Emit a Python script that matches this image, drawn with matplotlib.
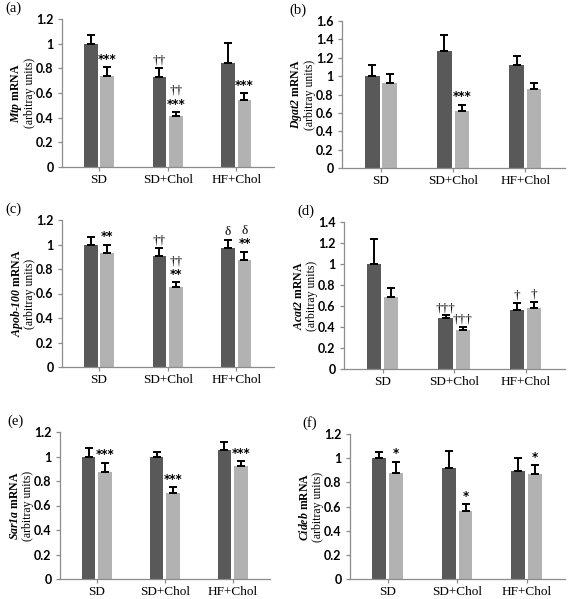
import numpy as np
import matplotlib
matplotlib.use("Agg")
import matplotlib.pyplot as plt

plt.rcParams['mathtext.fontset'] = 'custom'
plt.rcParams['mathtext.rm'] = 'Liberation Serif'
plt.rcParams['mathtext.bf'] = 'Liberation Serif:bold'
plt.rcParams['mathtext.it'] = 'Liberation Serif:italic'
plt.rcParams['mathtext.bfit'] = 'Liberation Serif:bold:italic'

W, H = 568, 599
PX = 0.72  # points per pixel at 100 dpi
dark_c = '#595959'
light_c = '#b2b2b2'

groups = ['SD', 'SD+Chol', 'HF+Chol']

# panel (a) Mtp
mtp_dark = [1.00, 0.73, 0.84]
mtp_dark_err = [0.07, 0.07, 0.165]
mtp_light = [0.74, 0.41, 0.54]
mtp_light_err = [0.07, 0.035, 0.06]
mtp_notes_dark = ['', '††', '']
mtp_notes_light = ['***', '††\n***', '***']

# panel (b) Dgat2
dgat2_dark = [1.00, 1.27, 1.12]
dgat2_dark_err = [0.12, 0.18, 0.10]
dgat2_light = [0.93, 0.62, 0.86]
dgat2_light_err = [0.09, 0.07, 0.07]
dgat2_notes_dark = ['', '', '']
dgat2_notes_light = ['', '***', '']

# panel (c) Apob-100
apob_dark = [1.00, 0.91, 0.97]
apob_dark_err = [0.06, 0.06, 0.07]
apob_light = [0.93, 0.65, 0.87]
apob_light_err = [0.07, 0.04, 0.07]
apob_notes_dark = ['', '††', 'δ']
apob_notes_light = ['**', '††\n**', 'δ\n**']

# panel (d) Acat2
acat2_dark = [1.00, 0.49, 0.56]
acat2_dark_err = [0.24, 0.02, 0.07]
acat2_light = [0.69, 0.37, 0.58]
acat2_light_err = [0.08, 0.03, 0.06]
acat2_notes_dark = ['', '†††', '†']
acat2_notes_light = ['', '†††', '†']

# panel (e) Sar1a
sar1a_dark = [1.00, 1.00, 1.05]
sar1a_dark_err = [0.07, 0.04, 0.07]
sar1a_light = [0.87, 0.70, 0.92]
sar1a_light_err = [0.08, 0.05, 0.04]
sar1a_notes_dark = ['', '', '']
sar1a_notes_light = ['***', '***', '***']

# panel (f) Cideb
cideb_dark = [1.00, 0.92, 0.89]
cideb_dark_err = [0.05, 0.14, 0.11]
cideb_light = [0.88, 0.56, 0.87]
cideb_light_err = [0.09, 0.06, 0.07]
cideb_notes_dark = ['', '', '']
cideb_notes_light = ['*', '*', '*']

panels = [
    ('(a)', r'$\mathbfit{Mtp}$ mRNA', 1.2, (62, 19, 274, 167), -49,
     mtp_dark, mtp_dark_err, mtp_light, mtp_light_err, mtp_notes_dark, mtp_notes_light),
    ('(b)', r'$\mathbfit{Dgat2}$ mRNA', 1.6, (342, 21, 565, 168), -44,
     dgat2_dark, dgat2_dark_err, dgat2_light, dgat2_light_err, dgat2_notes_dark, dgat2_notes_light),
    ('(c)', r'$\mathbfit{Apob}$-$\mathbfit{100}$ mRNA', 1.2, (62, 220, 274, 367), -49,
     apob_dark, apob_dark_err, apob_light, apob_light_err, apob_notes_dark, apob_notes_light),
    ('(d)', r'$\mathbfit{Acat2}$ mRNA', 1.4, (344, 222, 565, 369), -38,
     acat2_dark, acat2_dark_err, acat2_light, acat2_light_err, acat2_notes_dark, acat2_notes_light),
    ('(e)', r'$\mathbfit{Sar1a}$ mRNA', 1.2, (60, 432, 270, 579), -45,
     sar1a_dark, sar1a_dark_err, sar1a_light, sar1a_light_err, sar1a_notes_dark, sar1a_notes_light),
    ('(f)', r'$\mathbfit{Cideb}$ mRNA', 1.2, (350, 434, 565, 579), -40,
     cideb_dark, cideb_dark_err, cideb_light, cideb_light_err, cideb_notes_dark, cideb_notes_light),
]


def _note_font(s):
    if '*' in s:
        return dict(family='DejaVu Sans', fontweight='bold', fontsize=8.5)
    return dict(family='Liberation Serif', fontsize=9.5)


fig = plt.figure(figsize=(W / 100, H / 100), dpi=100)
fig.patch.set_facecolor('white')

x = np.arange(len(groups))
bw = 0.2
off = 0.12

for tag, ylab, ymax, box, tag_dx, dk, dke, lt, lte, nd, nl in panels:
    x0, y0, x1, y1 = box
    ax = fig.add_axes([x0 / W, 1 - y1 / H, (x1 - x0) / W, (y1 - y0) / H])
    ax.bar(x - off, dk, bw, color=dark_c, zorder=2)
    ax.bar(x + off, lt, bw, color=light_c, zorder=2)
    ax.errorbar(x - off, dk, yerr=[np.zeros(3), dke], fmt='none', ecolor='black',
                elinewidth=1.4, capsize=2.6, capthick=1.4, zorder=3)
    ax.errorbar(x + off, lt, yerr=[np.zeros(3), lte], fmt='none', ecolor='black',
                elinewidth=1.4, capsize=2.6, capthick=1.4, zorder=3)

    for i in range(3):
        for xs, v, e, s in ((x[i] - off, dk[i], dke[i], nd[i]), (x[i] + off, lt[i], lte[i], nl[i])):
            if not s:
                continue
            ypos = v + e
            gap = 1.0
            for ln in reversed(s.split('\n')):
                ax.annotate(ln, (xs, ypos), xytext=(0, gap), textcoords='offset points',
                            ha='center', va='bottom', **_note_font(ln))
                gap += 10.0 if '*' in ln else 10.5

    ax.set_xlim(-0.54, 2.55)
    ax.set_ylim(0, ymax)
    yt = np.arange(0, ymax + 0.01, 0.2)
    ax.set_yticks(yt)
    ax.set_yticklabels(['%g' % t for t in yt], fontweight='bold', fontsize=9, family='Lato')
    ax.set_xticks(x)
    ax.set_xticklabels(groups, family='Liberation Serif', fontsize=9.5)
    for sp in ('top', 'right'):
        ax.spines[sp].set_visible(False)
    for sp in ('left', 'bottom'):
        ax.spines[sp].set_color('#8c8c8c')
        ax.spines[sp].set_linewidth(0.9)
    ax.tick_params(axis='y', length=3, width=0.9, color='#8c8c8c', pad=3)
    ax.tick_params(axis='x', length=3, width=0.9, color='#8c8c8c', pad=2)

    ax.annotate(ylab, (0, 0.5), xycoords='axes fraction', xytext=(-45 * PX, 0),
                textcoords='offset points', rotation=90, ha='center', va='center',
                family='Liberation Serif', fontweight='bold', fontsize=8.5)
    ax.annotate('(arbitray units)', (0, 0.5), xycoords='axes fraction', xytext=(-32 * PX, 0),
                textcoords='offset points', rotation=90, ha='center', va='center',
                family='Liberation Serif', fontsize=8.5)
    ax.annotate(tag, (0, 1), xycoords='axes fraction', xytext=(tag_dx * PX, 11 * PX),
                textcoords='offset points', ha='center', va='center',
                family='Liberation Serif', fontsize=10.5)

fig.savefig('out.png', dpi=100, facecolor='white')
